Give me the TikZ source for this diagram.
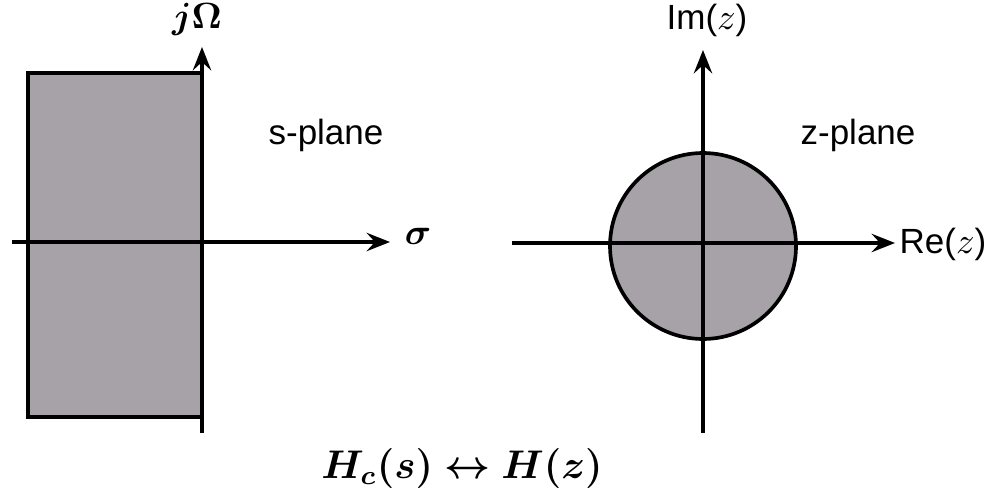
\documentclass[tikz,border=0pt]{standalone}
\usepackage{amsmath}
\usepackage{bm}
\usepackage{fontspec}
\setmainfont{Liberation Sans}
\usetikzlibrary{arrows.meta}
\definecolor{regiongray}{RGB}{166,162,167}

\begin{document}
\begin{tikzpicture}[
      x=0.3pt, y=-0.3pt,
      axis/.style={line width=1.1pt, -{Stealth[length=7pt, width=5.5pt, inset=2.5pt]}},
      region/.style={draw, line width=1.1pt, fill=regiongray},
      lbl/.style={font=\fontsize{10.5}{12}\selectfont},
      mlbl/.style={font=\fontsize{11}{13}\selectfont}
    ]
      \useasboundingbox (0,0) rectangle (992,499);

      % s-plane
      \draw[region] (202,73) -- (28,73) -- (28,417) -- (202,417);
      \coordinate (sbot) at (202,433);
      \coordinate (stop) at (202,47);
      \coordinate (sleft) at (12,242);
      \coordinate (sright) at (390,242);
      \draw[axis] (sbot) -- (stop);
      \draw[axis] (sleft) -- (sright);
      \node[mlbl] (jomega) at (197,19) {$\boldsymbol{j\Omega}$};
      \node[mlbl, anchor=west] (sigma) at (393,236) {$\boldsymbol{\sigma}$};
      \node[lbl] (splane) at (326,135) {s-plane};

      % z-plane
      \node[region, circle, minimum size=186*0.3pt, inner sep=0pt] (ucircle) at (703,246) {};
      \coordinate (zbot) at (703,433);
      \coordinate (ztop) at (703,50);
      \coordinate (zleft) at (512,243);
      \coordinate (zright) at (895,243);
      \draw[axis] (zbot) -- (ztop);
      \draw[axis] (zleft) -- (zright);
      \node[lbl] (imz) at (707,20) {Im($z$)};
      \node[lbl, anchor=west, inner sep=0pt] (rez) at (899,244) {Re($z$)};
      \node[lbl] (zplane) at (858,135) {z-plane};

      % mapping
      \node[font=\fontsize{12}{14}\selectfont] (mapping) at (462,468)
        {$\boldsymbol{H_c(s) \leftrightarrow H(z)}$};
    \end{tikzpicture}
\end{document}
